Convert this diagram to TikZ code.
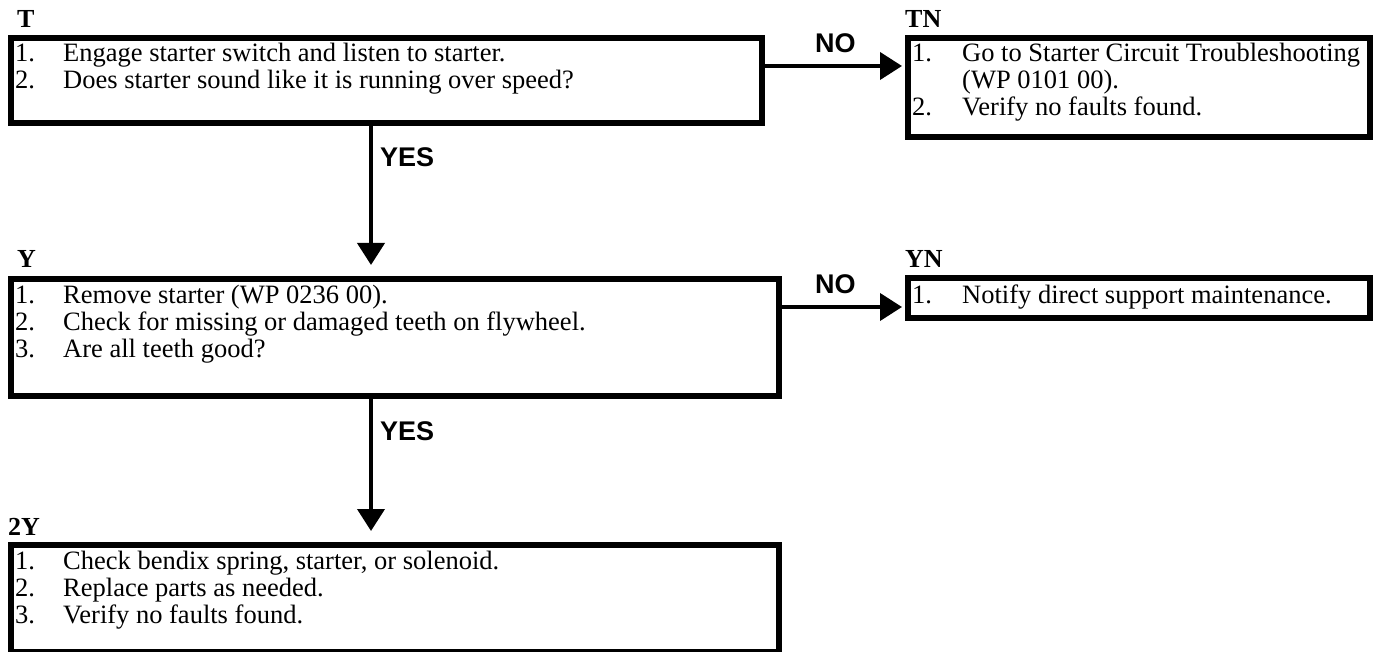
\documentclass[tikz,border=0pt]{standalone}
\usepackage{fontspec}
\setmainfont{Liberation Serif}
\setsansfont{Liberation Sans}
\usetikzlibrary{arrows.meta}
\begin{document}
\begin{tikzpicture}[x=1pt,y=-1pt,
  box/.style={draw, line width=6pt, inner sep=0, anchor=north west},
  hdr/.style={font=\bfseries\fontsize{26}{26}\selectfont, anchor=base west, inner sep=0},
  txt/.style={font=\fontsize{26.5}{28}\selectfont, anchor=base west, inner sep=0},
  lab/.style={font=\sffamily\bfseries\fontsize{27}{27}\selectfont, anchor=base west, inner sep=0},
  arr/.style={line width=4pt, -{Triangle[length=22pt,width=27pt]}}]
\useasboundingbox (0,0) rectangle (1375,652);
% boxes (centre line of border)
\node[box, minimum width=751pt, minimum height=85pt] (T) at (8,35) {};
\node[box, minimum width=462pt, minimum height=99pt] (TN) at (905,35) {};
\node[box, minimum width=768pt, minimum height=117pt] (Y) at (8,276) {};
\node[box, minimum width=462pt, minimum height=40pt] (YN) at (905,275) {};
\node[box, minimum width=768pt, minimum height=107pt] (YY) at (8,542) {};
% headers
\node[hdr] (hT) at (17,28) {T};
\node[hdr] (hTN) at (905,28) {TN};
\node[hdr] (hY) at (17,268) {Y};
\node[hdr] (hYN) at (905,268) {YN};
\node[hdr] (hYY) at (8,535) {2Y};
% T text
\node[txt] (t1n) at (15,62) {1.};
\node[txt] (t1) at (63,62) {Engage starter switch and listen to starter.};
\node[txt] (t2n) at (15,89) {2.};
\node[txt] (t2) at (63,89) {Does starter sound like it is running over speed?};
% TN text
\node[txt] (tn1n) at (912,62) {1.};
\node[txt] (tn1) at (962,62) {Go to Starter Circuit Troubleshooting};
\node[txt] (tn1b) at (962,89) {(WP 0101 00).};
\node[txt] (tn2n) at (912,116) {2.};
\node[txt] (tn2) at (962,116) {Verify no faults found.};
% Y text
\node[txt] (y1n) at (15,303) {1.};
\node[txt] (y1) at (63,303) {Remove starter (WP 0236 00).};
\node[txt] (y2n) at (15,330) {2.};
\node[txt] (y2) at (63,330) {Check for missing or damaged teeth on flywheel.};
\node[txt] (y3n) at (15,357) {3.};
\node[txt] (y3) at (63,357) {Are all teeth good?};
% YN text
\node[txt] (yn1n) at (912,303) {1.};
\node[txt] (yn1) at (962,303) {Notify direct support maintenance.};
% 2Y text
\node[txt] (yy1n) at (15,569) {1.};
\node[txt] (yy1) at (63,569) {Check bendix spring, starter, or solenoid.};
\node[txt] (yy2n) at (15,596) {2.};
\node[txt] (yy2) at (63,596) {Replace parts as needed.};
\node[txt] (yy3n) at (15,623) {3.};
\node[txt] (yy3) at (63,623) {Verify no faults found.};
% connectors
\coordinate (tA) at (371,122);
\coordinate (tB) at (371,265);
\draw[arr] (tA) -- (tB);
\node[lab] (yes1) at (380,167) {YES};
\coordinate (yA) at (371,395);
\coordinate (yB) at (371,531);
\draw[arr] (yA) -- (yB);
\node[lab] (yes2) at (380,440) {YES};
\coordinate (nA) at (762,66);
\coordinate (nB) at (902,66);
\draw[arr] (nA) -- (nB);
\node[lab] (no1) at (815,53) {NO};
\coordinate (mA) at (779,307);
\coordinate (mB) at (902,307);
\draw[arr] (mA) -- (mB);
\node[lab] (no2) at (815,293) {NO};
\end{tikzpicture}
\end{document}
